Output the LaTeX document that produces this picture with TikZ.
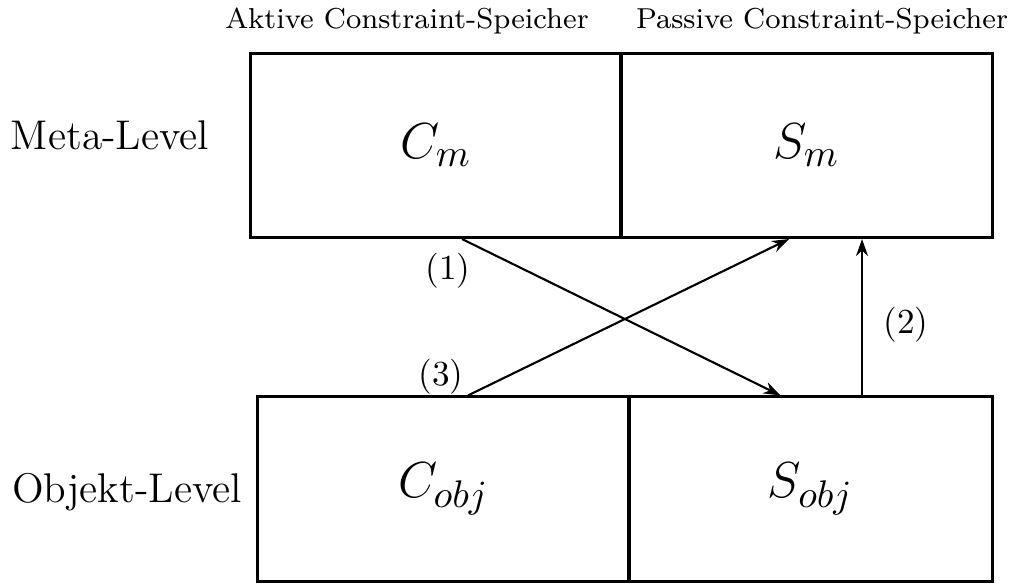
\documentclass[tikz,border=0pt]{standalone}
\usepackage{tikz}
\usetikzlibrary{positioning,arrows.meta}

\begin{document}
\begin{tikzpicture}[
  x=0.01cm, y=-0.01cm,
  store/.style={draw, line width=0.85pt, minimum height=1.84cm, inner sep=0pt, font=\fontsize{15}{18}\selectfont},
  lvl/.style={font=\fontsize{11.8}{14}\selectfont},
  heading/.style={font=\fontsize{8.2}{10}\selectfont},
  num/.style={font=\fontsize{10}{12}\selectfont},
  arr/.style={-{Stealth[length=1.7mm,width=1.2mm]}, line width=0.6pt}
]
\useasboundingbox (0,0) rectangle (1018,586);

% Meta-Level
\node[store, minimum width=3.70cm] (cm) at (436,145.5) {$C_m$};
\node[store, minimum width=3.71cm] (sm) at (806.5,145.5) {$S_m$};
% Objekt-Level
\node[store, minimum width=3.71cm] (cobj) at (443.5,489) {$C_{obj}$};
\node[store, minimum width=3.63cm] (sobj) at (810.5,489) {$S_{obj}$};

\node[lvl] (meta) at (110,135) {Meta-Level};
\node[lvl] (objekt) at (127,492) {Objekt-Level};
\node[heading] (aktiv) at (407,21) {Aktive Constraint-Speicher};
\node[heading] (passiv) at (822,21) {Passive Constraint-Speicher};

\coordinate (p2) at ([xshift=0.515cm]sobj.north);
\draw[arr] ([xshift=0.26cm]cm.south) -- ([xshift=-0.3cm]sobj.north);
\draw[arr] ([xshift=0.245cm]cobj.north) -- ([xshift=-0.175cm]sm.south);
\draw[arr] (p2) -- (p2 |- sm.south);

\node[num] (n1) at (448,271) {(1)};
\node[num] (n2) at (906,325) {(2)};
\node[num] (n3) at (441,377) {(3)};
\end{tikzpicture}
\end{document}
